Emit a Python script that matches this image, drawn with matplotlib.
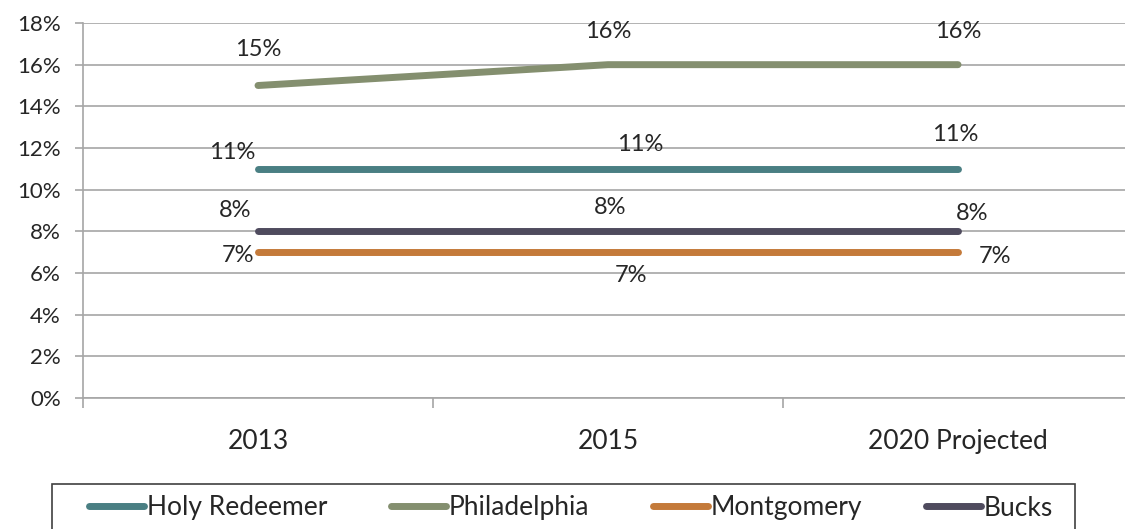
import matplotlib.pyplot as plt
from matplotlib.patches import Rectangle
from matplotlib.ticker import FixedLocator

plt.rcParams['font.family'] = ['Lato', 'DejaVu Sans']

categories = ["2013", "2015", "2020 Projected"]
holy_redeemer = [0.11, 0.11, 0.11]
philadelphia = [0.15, 0.16, 0.16]
montgomery = [0.07, 0.07, 0.07]
bucks = [0.08, 0.08, 0.08]

series = [
    ("Holy Redeemer", holy_redeemer, "#4a7f83",
     [(-26, 16), (32, 24), (-3, 34)]),
    ("Philadelphia", philadelphia, "#848f6f",
     [(0, 36), (0, 33), (0, 33)]),
    ("Montgomery", montgomery, "#c47a3a",
     [(-20, -3), (23, -23), (37, -4)]),
    ("Bucks", bucks, "#4f4b5e",
     [(-23, 21), (2, 24), (14, 18)]),
]

txt = "#262626"

fig = plt.figure(figsize=(11.25, 5.29), dpi=100)
ax = fig.add_axes([83 / 1125, 131 / 529, 1042 / 1125, 375 / 529])

x = range(len(categories))
for name, vals, color, offs in series:
    ax.plot(x, vals, color=color, lw=5, solid_capstyle="round", label=name)
    for xi, v, off in zip(x, vals, offs):
        ax.annotate(f"{v * 100:.0f}%", (xi, v), xytext=off,
                    textcoords="offset pixels", ha="center", va="center",
                    fontsize=17, color=txt)

ax.set_ylim(0, 0.18)
ax.set_xlim(-0.5, 2.477)
ax.set_yticks([i / 100 for i in range(0, 19, 2)])
ax.set_yticklabels([f"{i}%" for i in range(0, 19, 2)])
ax.grid(axis="y", color="#a6a6a6", lw=1.2)
ax.set_axisbelow(True)

ax.set_xticks(list(x))
ax.set_xticklabels(categories)
ax.xaxis.set_minor_locator(FixedLocator([-0.5, 0.5, 1.5]))
ax.tick_params(axis="x", which="major", length=0, pad=22, labelsize=19,
               labelcolor=txt)
ax.tick_params(axis="x", which="minor", length=7, color="#a6a6a6", width=1.2)
ax.tick_params(axis="y", length=6, color="#a6a6a6", width=1.2, labelsize=16,
               labelcolor=txt, pad=10)

for s in ["top", "right"]:
    ax.spines[s].set_visible(False)
for s in ["left", "bottom"]:
    ax.spines[s].set_color("#a6a6a6")
    ax.spines[s].set_linewidth(1.2)

# legend box (bottom edge runs off the image like the original)
fig.patches.append(Rectangle((52 / 1125, -0.05), 1023 / 1125, 45 / 529 + 0.05,
                             transform=fig.transFigure, fill=False,
                             edgecolor="#404040", lw=1.2))
leg = fig.legend(loc="center", bbox_to_anchor=(571 / 1125, 1 - 508 / 529),
                 ncol=4, fontsize=19, handlelength=2.1, handletextpad=0.1,
                 columnspacing=2.4, frameon=False, borderaxespad=0,
                 borderpad=0, labelcolor=txt)
for h in leg.get_lines():
    h.set_linewidth(5)
    h.set_solid_capstyle("round")

fig.savefig("out.png", dpi=100)
